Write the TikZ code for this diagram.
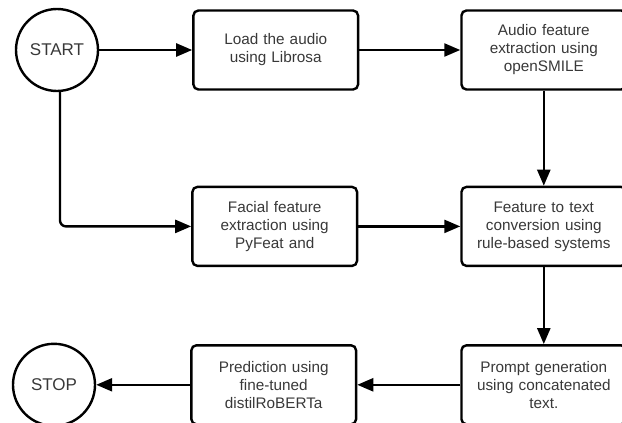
\documentclass[tikz,border=0pt]{standalone}
\usepackage{fontspec}
\setmainfont{Liberation Sans}
\usetikzlibrary{positioning,arrows.meta}

\begin{document}
\begin{tikzpicture}[x=1pt,y=-1pt,->,>={Triangle[length=16pt,width=13pt]},line width=2.4pt,
    end node/.style={circle,draw,minimum size=82pt,inner sep=0pt,text=black!78,font=\fontsize{17}{20}\selectfont},
    step node/.style={rectangle,draw,rounded corners=5pt,minimum width=163pt,minimum height=79pt,text width=158pt,align=center,text=black!78,font=\fontsize{15.3}{18}\selectfont}]
    \useasboundingbox (0,0) rectangle (622,423);

    \node[end node] (start) at (57,50) {START};
    \node[step node] (load) [right=93pt of start] {Load the audio\\using Librosa};
    \node[step node] (audio) [right=101pt of load] {Audio feature\\extraction using\\openSMILE};
    \node[step node] (convert) [below=95pt of audio] {Feature to text\\conversion using\\rule-based systems};
    \node[step node] (facial) [left=102pt of convert] {Facial feature\\extraction using\\PyFeat and};
    \node[step node] (prompt) [below=77pt of convert] {Prompt generation\\using concatenated\\text.};
    \node[step node] (predict) [left=103pt of prompt] {Prediction using\\fine-tuned\\distilRoBERTa};
    \node[end node] (stop) [left=94pt of predict] {STOP};

    \path
        (start) edge (load)
        (load) edge (audio)
        (audio) edge (convert)
        (facial) edge (convert)
        (convert) edge (prompt)
        (prompt) edge (predict)
        (predict) edge (stop)
    ;
    \draw[rounded corners=6pt] ([xshift=3pt]start.south) |- (facial.west);
\end{tikzpicture}
\end{document}
